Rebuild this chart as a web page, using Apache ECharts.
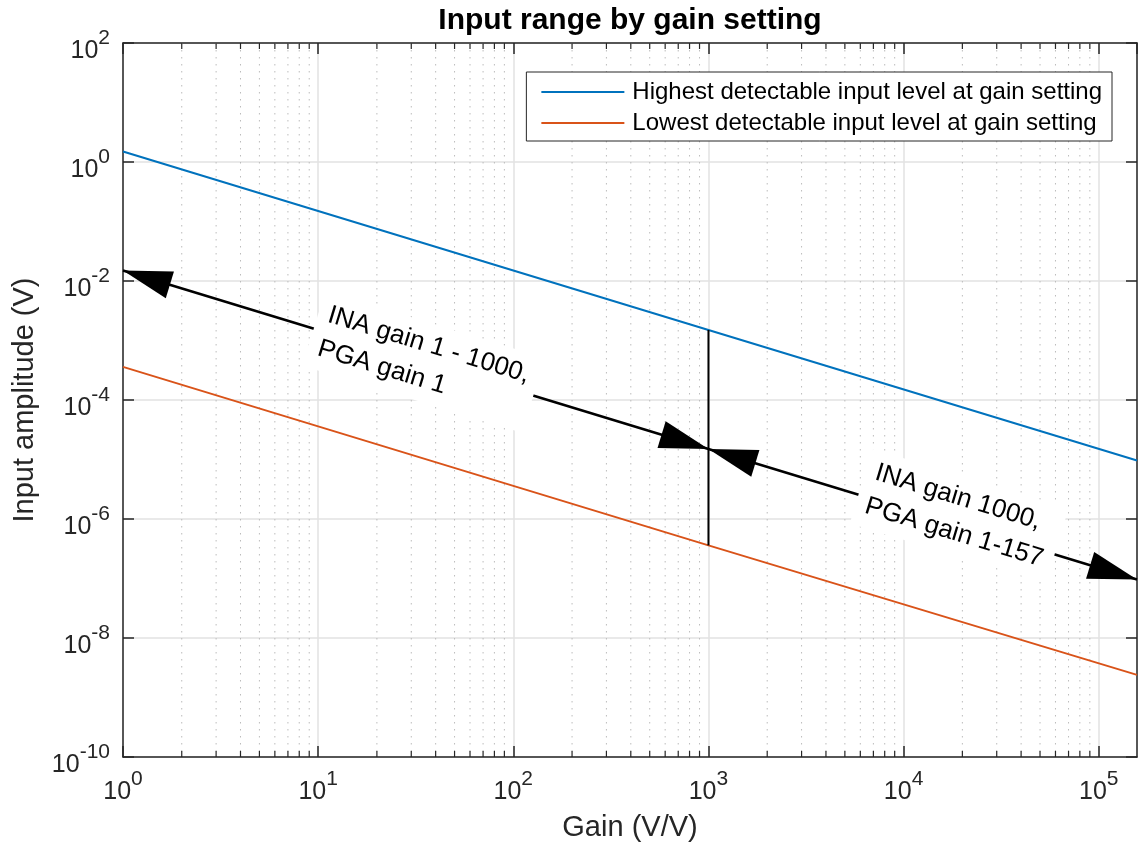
<!DOCTYPE html>
<html>
<head>
<meta charset="utf-8">
<script src="https://cdn.jsdelivr.net/npm/echarts@6/dist/echarts.min.js"></script>
<style>
html, body { margin: 0; padding: 0; background: #fff; }
#chart { width: 1138px; height: 848px; }
</style>
</head>
<body>
<div id="chart"></div>
<script>
var FONT = '"Liberation Sans", Arial, sans-serif';
var AXIS_COLOR = '#262626';

var gain = [1, 1000, 157000];
var highestLevel = [1.5, 1.5e-3, 9.6e-6];
var lowestLevel = [3.6e-4, 3.6e-7, 2.4e-9];

// INA / PGA split at gain 1000
var splitGain = [1000, 1000];
var splitLevel = [1.5e-3, 3.6e-7];

// double arrows and their notes
var arrowFromGain = [1, 1000];
var arrowFromLevel = [1.5e-2, 1.5e-5];
var arrowToGain = [1000, 157000];
var arrowToLevel = [1.5e-5, 9.6e-8];
var noteGain = [31, 17200];
var noteLevel = [4.9e-4, 1.26e-6];
var noteText = ['INA gain 1 - 1000,\nPGA gain 1', 'INA gain 1000,\nPGA gain 1-157'];

var seriesNames = [
	'Highest detectable input level at gain setting',
	'Lowest detectable input level at gain setting'
];

// axis ranges and minor tick positions
var xMin = 1, xMax = 157000;
var yMin = 1e-10, yMax = 1e2;
var xDecades = [1, 10, 100, 1000, 10000];
var minorSteps = [2, 3, 4, 5, 6, 7, 8, 9];
var minorTicks = [];
xDecades.forEach(function (d) {
	minorSteps.forEach(function (m) { minorTicks.push(d * m); });
});

var NOTE_SIZE = 26;
var measureCtx = document.createElement('canvas').getContext('2d');
function textWidth(t) {
	measureCtx.font = NOTE_SIZE + 'px ' + FONT;
	return Math.max.apply(null, t.split('\n').map(function (l) { return measureCtx.measureText(l).width; }));
}

function powLabel(v) {
	var lg = Math.log10(v);
	var e = Math.round(lg);
	if (Math.abs(lg - e) > 1e-6) return '';
	return '{b|10}{s|' + e + '}';
}
var powRich = {
	b: { fontSize: 25, fontFamily: FONT, color: AXIS_COLOR, verticalAlign: 'bottom' },
	s: { fontSize: 21, fontFamily: FONT, color: AXIS_COLOR, verticalAlign: 'bottom', padding: [0, 0, 15, 0] }
};

// dotted minor grid plus minor ticks top and bottom
function renderMinor(params, api) {
	var cs = params.coordSys;
	var x = api.coord([api.value(0), 1])[0];
	var top = cs.y, bottom = cs.y + cs.height;
	return { type: 'group', children: [
		{ type: 'line', shape: { x1: x, y1: top, x2: x, y2: bottom }, style: { stroke: '#bcbcbc', lineWidth: 1, lineDash: [1.5, 5.5] } },
		{ type: 'line', shape: { x1: x, y1: bottom, x2: x, y2: bottom - 6 }, style: { stroke: AXIS_COLOR, lineWidth: 1.2 } },
		{ type: 'line', shape: { x1: x, y1: top, x2: x, y2: top + 6 }, style: { stroke: AXIS_COLOR, lineWidth: 1.2 } }
	] };
}

function head(tip, tail) {
	var dx = tip[0] - tail[0], dy = tip[1] - tail[1];
	var len = Math.sqrt(dx * dx + dy * dy);
	var ux = dx / len, uy = dy / len;
	var bx = tip[0] - ux * 49, by = tip[1] - uy * 49;
	return { type: 'polygon', shape: { points: [tip, [bx - uy * 14, by + ux * 14], [bx + uy * 14, by - ux * 14]] }, style: { fill: '#000' } };
}

function renderArrow(params, api) {
	var i = params.dataIndex;
	var p1 = api.coord([api.value(0), api.value(1)]);
	var p2 = api.coord([api.value(2), api.value(3)]);
	var c = api.coord([api.value(4), api.value(5)]);
	var ang = Math.atan2(p2[1] - p1[1], p2[0] - p1[0]);
	var w = textWidth(noteText[i]);
	return { type: 'group', children: [
		{ type: 'line', shape: { x1: p1[0], y1: p1[1], x2: p2[0], y2: p2[1] }, style: { stroke: '#000', lineWidth: 2.5 } },
		head(p1, p2),
		head(p2, p1),
		{ type: 'text', x: c[0], y: c[1], rotation: -ang,
		  style: { text: noteText[i], x: -w / 2, y: 0, align: 'left', verticalAlign: 'middle',
		           fontSize: NOTE_SIZE, fontFamily: FONT, lineHeight: 35, fill: '#000',
		           backgroundColor: '#fff', padding: [4, 10] } }
	] };
}

var chart = echarts.init(document.getElementById('chart'));

var tickStyle = { inside: true, length: 11, lineStyle: { color: AXIS_COLOR, width: 1.5 } };
var lineAxis = { lineStyle: { color: AXIS_COLOR, width: 1.5 } };

chart.setOption({
	animation: false,
	backgroundColor: '#fff',
	title: {
		text: 'Input range by gain setting',
		left: 630, top: 6, textAlign: 'center', padding: 0,
		textStyle: { fontSize: 30, fontWeight: 'bold', fontFamily: FONT, color: '#000' }
	},
	legend: {
		data: seriesNames,
		orient: 'vertical',
		right: 26, top: 72,
		icon: 'rect',
		backgroundColor: '#fff',
		borderColor: AXIS_COLOR, borderWidth: 1,
		padding: [8, 10, 6, 15],
		itemGap: 7, itemWidth: 83, itemHeight: 2,
		textStyle: { fontSize: 24, fontFamily: FONT, color: '#000', padding: [0, 0, 0, 3] }
	},
	grid: { left: 123, right: 1, top: 43, bottom: 91, containLabel: false },
	xAxis: [{
		type: 'log', logBase: 10, min: xMin, max: xMax, interval: 1,
		position: 'bottom',
		axisLine: lineAxis, axisTick: tickStyle,
		axisLabel: { formatter: powLabel, rich: powRich, margin: 12, showMaxLabel: false },
		splitLine: { show: true, lineStyle: { color: '#e2e2e2', width: 1.5 } },
		name: 'Gain (V/V)', nameLocation: 'middle', nameGap: 56,
		nameTextStyle: { fontSize: 29, fontFamily: FONT, color: AXIS_COLOR }
	}, {
		type: 'log', logBase: 10, min: xMin, max: xMax, interval: 1,
		position: 'top',
		axisLine: lineAxis, axisTick: tickStyle,
		axisLabel: { show: false }, splitLine: { show: false }
	}],
	yAxis: [{
		type: 'log', logBase: 10, min: yMin, max: yMax, interval: 2,
		position: 'left',
		axisLine: lineAxis, axisTick: tickStyle,
		axisLabel: { formatter: powLabel, rich: powRich, margin: 13, padding: [6, 0, 0, 0] },
		splitLine: { show: true, lineStyle: { color: '#e2e2e2', width: 1.5 } },
		name: 'Input amplitude (V)', nameLocation: 'middle', nameGap: 84,
		nameTextStyle: { fontSize: 29, fontFamily: FONT, color: AXIS_COLOR }
	}, {
		type: 'log', logBase: 10, min: yMin, max: yMax, interval: 2,
		position: 'right',
		axisLine: lineAxis, axisTick: tickStyle,
		axisLabel: { show: false }, splitLine: { show: false }
	}],
	series: [{
		type: 'custom', name: 'minor', silent: true, z: 1,
		renderItem: renderMinor,
		encode: { x: 0, y: 1 },
		data: minorTicks.map(function (g) { return [g, 1]; })
	}, {
		name: seriesNames[0], type: 'line', symbol: 'none', z: 3,
		lineStyle: { color: '#0072BD', width: 2 }, itemStyle: { color: '#0072BD' },
		data: gain.map(function (g, i) { return [g, highestLevel[i]]; })
	}, {
		name: seriesNames[1], type: 'line', symbol: 'none', z: 3,
		lineStyle: { color: '#D95319', width: 2 }, itemStyle: { color: '#D95319' },
		data: gain.map(function (g, i) { return [g, lowestLevel[i]]; })
	}, {
		name: 'split', type: 'line', symbol: 'none', z: 3,
		lineStyle: { color: '#000', width: 2 },
		data: splitGain.map(function (g, i) { return [g, splitLevel[i]]; })
	}, {
		type: 'custom', name: 'arrows', silent: true, z: 5,
		renderItem: renderArrow,
		encode: { x: [0, 2, 4], y: [1, 3, 5] },
		data: arrowFromGain.map(function (g, i) {
			return [g, arrowFromLevel[i], arrowToGain[i], arrowToLevel[i], noteGain[i], noteLevel[i]];
		})
	}]
});
</script>
</body>
</html>
